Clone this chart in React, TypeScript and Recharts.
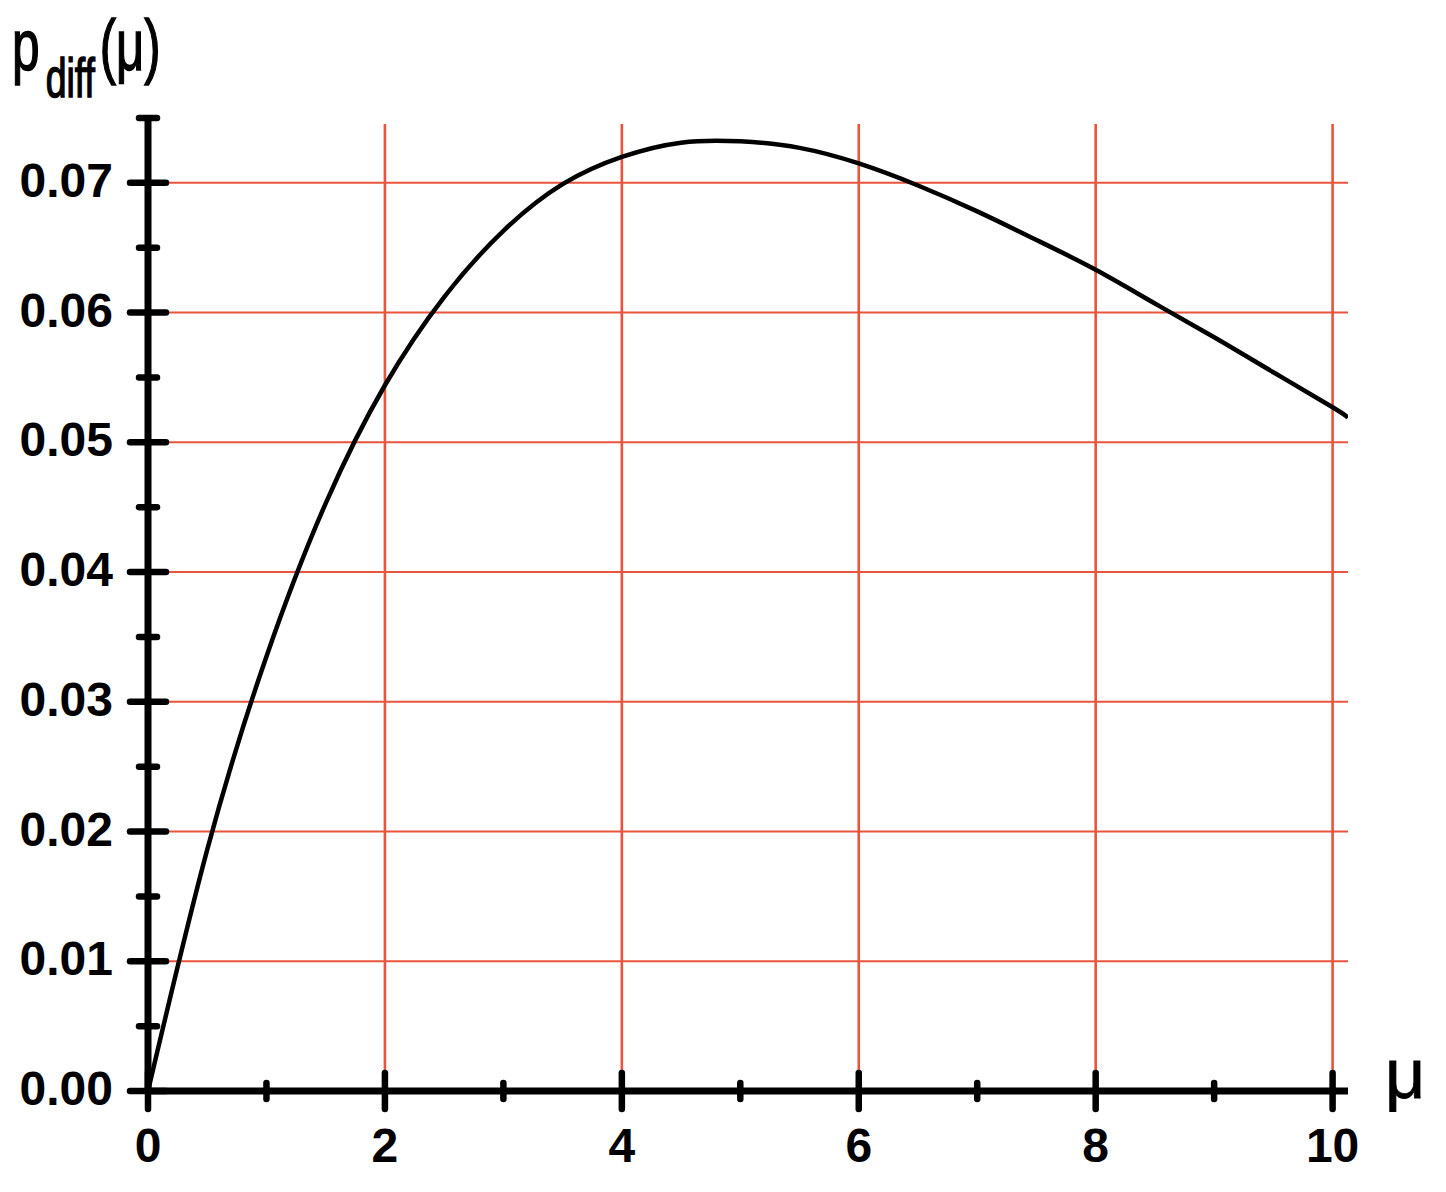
import React from "react";
import { LineChart, Line, XAxis, YAxis, CartesianGrid } from "recharts";

// readings of p_diff(mu) off the reference curve
const muValues = [
  0, 0.5, 1, 1.5, 2, 2.5, 3, 3.5, 4, 4.5, 5, 5.5, 6, 6.5, 7, 7.5, 8, 8.5, 9,
  9.5, 10, 10.13,
];
const pValues = [
  0, 0.0186, 0.0335, 0.0453, 0.0544, 0.0612, 0.0663, 0.0699, 0.072, 0.0731,
  0.0732, 0.0727, 0.0715, 0.0698, 0.0678, 0.0656, 0.0633, 0.0607, 0.0581,
  0.0554, 0.0527, 0.0519,
];

const xTicks = [0, 1, 2, 3, 4, 5, 6, 7, 8, 9, 10];
const xGrid = [2, 4, 6, 8, 10];
const yTicks = [
  0, 0.005, 0.01, 0.015, 0.02, 0.025, 0.03, 0.035, 0.04, 0.045, 0.05, 0.055,
  0.06, 0.065, 0.07, 0.075,
];
const yGrid = [0.01, 0.02, 0.03, 0.04, 0.05, 0.06, 0.07];

const data = muValues.map((mu, i) => ({ mu, p: pValues[i] }));

const W = 1446;
const H = 1192;
const Y_AXIS_W = 148;
const X_AXIS_H = 101;
const AXIS_X = Y_AXIS_W;
const AXIS_Y = H - X_AXIS_H;
const GRID = "#e8553c";
const FONT = "'Liberation Sans', Arial, sans-serif";

const YTick = (props: any) => {
  const { y, payload } = props;
  const v = payload.value;
  const major = Math.abs(v * 100 - Math.round(v * 100)) < 1e-6;
  const half = major ? 18 : 9;
  return (
    <g>
      <line
        x1={AXIS_X - half}
        x2={AXIS_X + half}
        y1={y}
        y2={y}
        stroke="#000"
        strokeWidth={6.5}
        strokeLinecap="round"
      />
      {major && (
        <text
          x={AXIS_X - 35}
          y={y + 14}
          textAnchor="end"
          fontFamily={FONT}
          fontWeight="bold"
          fontSize={48}
          fill="#000"
        >
          {v.toFixed(2)}
        </text>
      )}
    </g>
  );
};

const XTick = (props: any) => {
  const { x, payload } = props;
  const v = payload.value;
  const major = v % 2 === 0;
  const half = major ? 18 : 8;
  return (
    <g>
      <line
        x1={x}
        x2={x}
        y1={AXIS_Y - half}
        y2={AXIS_Y + half}
        stroke="#000"
        strokeWidth={6.5}
        strokeLinecap="round"
      />
      {major && (
        <text
          x={x}
          y={AXIS_Y + 71}
          textAnchor="middle"
          fontFamily={FONT}
          fontWeight="bold"
          fontSize={48}
          fill="#000"
        >
          {v}
        </text>
      )}
    </g>
  );
};

const App = () => {
  return (
    <div style={{ position: "absolute", left: 0, top: 0, width: W, height: H, background: "#fff" }}>
      <LineChart
        width={W}
        height={H}
        data={data}
        margin={{ top: 118, right: 98, left: 0, bottom: 0 }}
      >
        <CartesianGrid
          stroke={GRID}
          strokeWidth={2}
          horizontalValues={yGrid}
          verticalValues={xGrid}
          vertical={(p: any) => (
            <line
              key={p.key}
              x1={p.x1}
              x2={p.x2}
              y1={p.y1 + 6}
              y2={p.y2}
              stroke={GRID}
              strokeWidth={2.6}
            />
          )}
        />
        <XAxis
          dataKey="mu"
          type="number"
          domain={[0, 10.13]}
          allowDataOverflow
          ticks={xTicks}
          interval={0}
          height={X_AXIS_H}
          tickSize={0}
          tickMargin={0}
          tickLine={false}
          axisLine={{ stroke: "#000", strokeWidth: 7 }}
          tick={<XTick />}
        />
        <YAxis
          type="number"
          domain={[0, 0.075]}
          allowDataOverflow
          ticks={yTicks}
          interval={0}
          width={Y_AXIS_W}
          tickSize={0}
          tickMargin={0}
          tickLine={false}
          axisLine={{ stroke: "#000", strokeWidth: 7 }}
          tick={<YTick />}
        />
        <Line
          type="natural"
          dataKey="p"
          stroke="#000"
          strokeWidth={4.5}
          dot={false}
          activeDot={false}
          isAnimationActive={false}
        />
      </LineChart>
      <svg
        width={W}
        height={H}
        style={{ position: "absolute", left: 0, top: 0, pointerEvents: "none" }}
      >
        {/* narrow-looking axis title: squeeze horizontally */}
        <g transform="translate(12,0) scale(0.68,1)">
          <text x={0} y={70} fontFamily={FONT} fontSize={73} fill="#000" stroke="#000" strokeWidth={1.5}>
            p
            <tspan dx={9} dy={27} fontSize={55}>
              diff
            </tspan>
            <tspan dx={7} dy={-27} fontSize={72}>
              (μ)
            </tspan>
          </text>
        </g>
        <text x={1385} y={1098} fontFamily={FONT} fontSize={70} fill="#000" stroke="#000" strokeWidth={0.8}>
          μ
        </text>
      </svg>
    </div>
  );
};

export default App;
